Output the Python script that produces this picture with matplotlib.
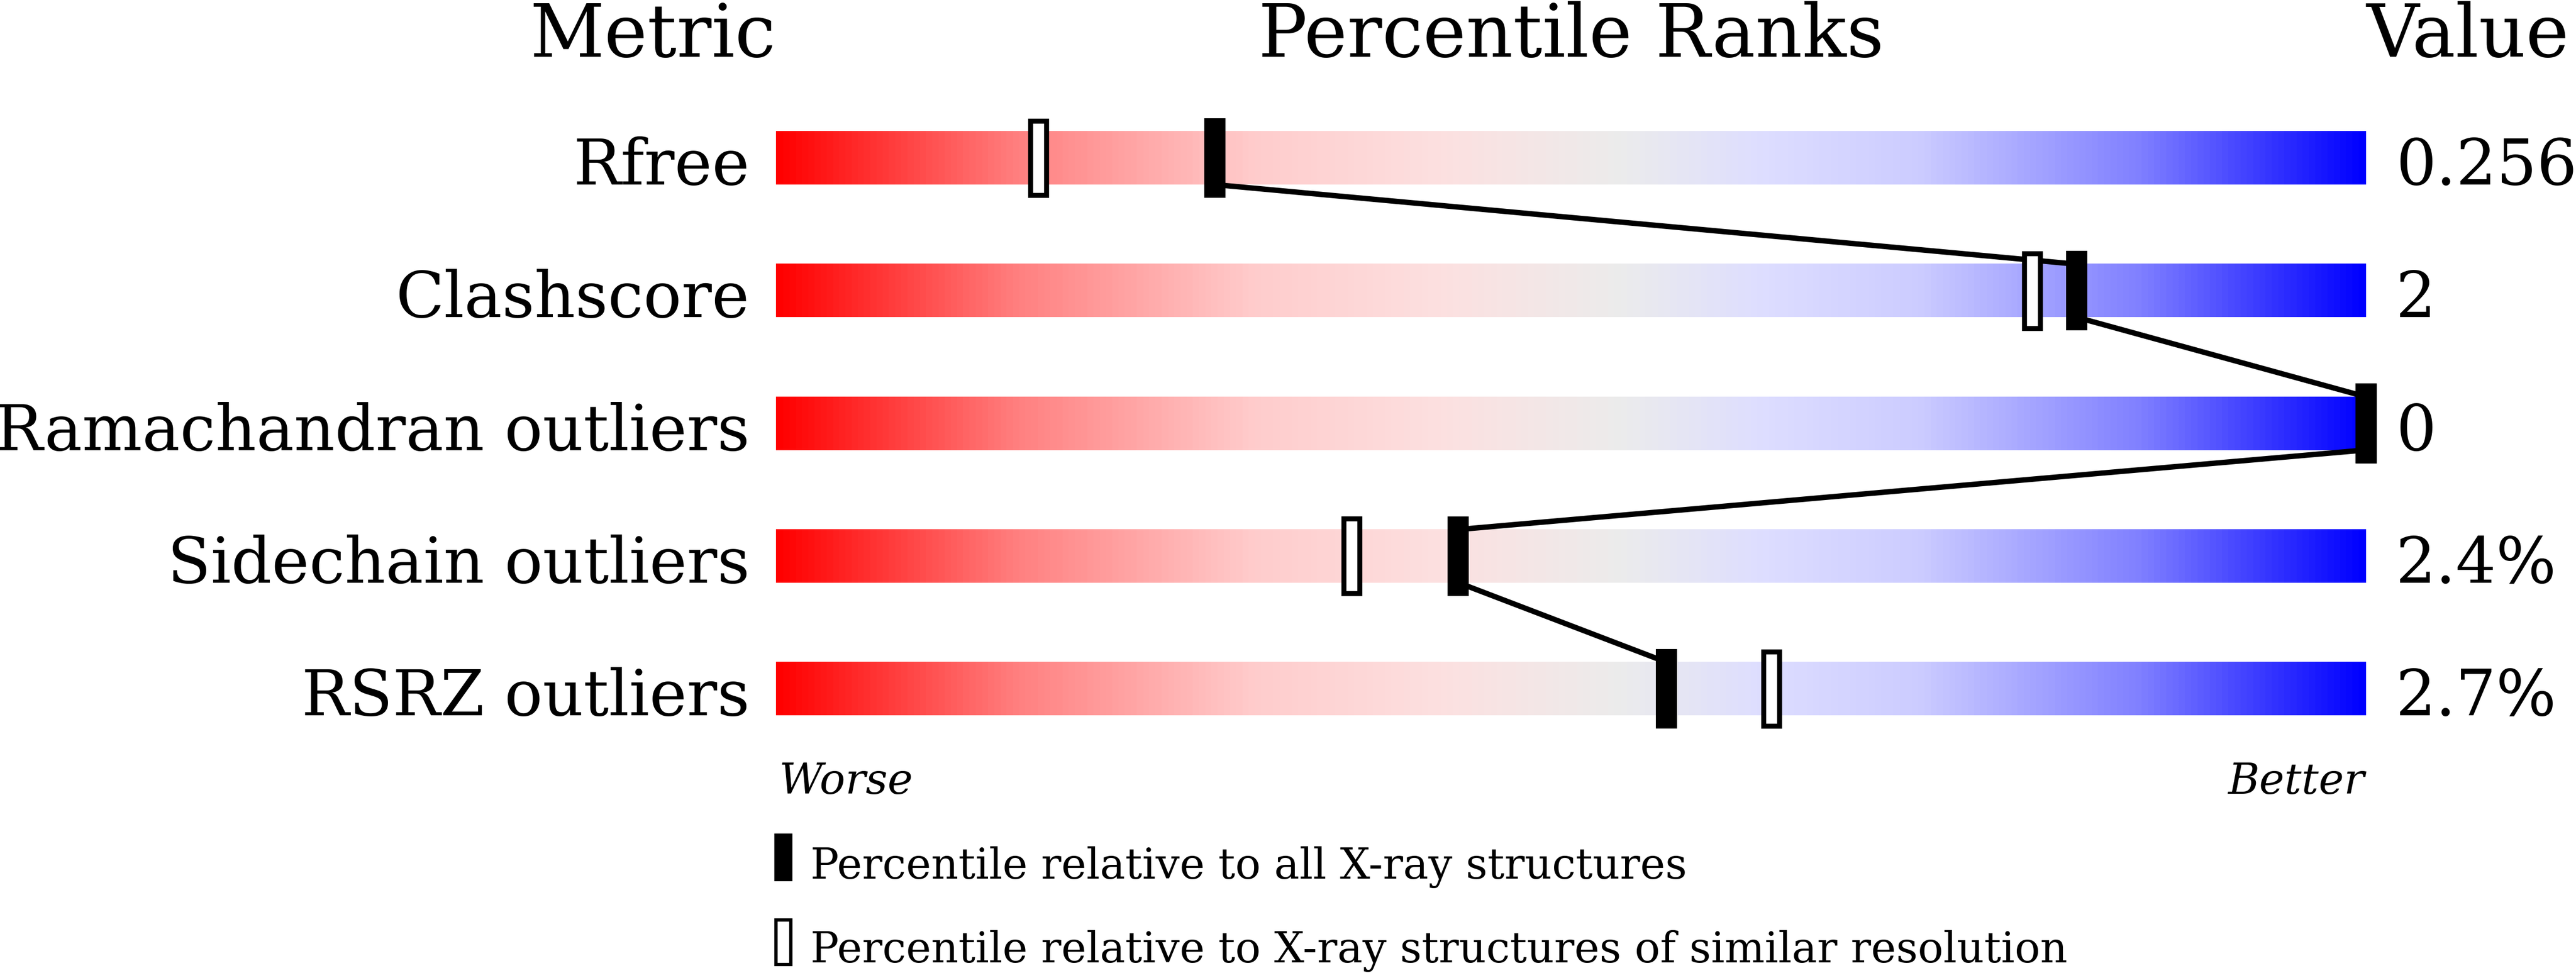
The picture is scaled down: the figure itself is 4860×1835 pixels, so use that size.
import numpy as np
import matplotlib
matplotlib.use("Agg")
import matplotlib.pyplot as plt
from matplotlib.colors import LinearSegmentedColormap
from matplotlib.patches import Rectangle

# data
metrics = ["Rfree", "Clashscore", "Ramachandran outliers", "Sidechain outliers", "RSRZ outliers"]
values = ["0.256", "2", "0", "2.4%", "2.7%"]
pct_all = [27.6, 81.8, 100.0, 42.9, 56.0]      # percentile vs all X-ray structures
pct_res = [16.5, 79.0, 100.0, 36.2, 62.6]      # percentile vs similar resolution
legend_labels = ["Percentile relative to all X-ray structures",
                 "Percentile relative to X-ray structures of similar resolution"]

W, H = 4860, 1835
plt.rcParams["font.family"] = ["DejaVu Serif"]

fig = plt.figure(figsize=(W / 100, H / 100), dpi=100)

# overlay in pixel units for headers / legend
bg = fig.add_axes([0, 0, 1, 1])
bg.set_xlim(0, W)
bg.set_ylim(H, 0)
bg.axis("off")

# slider area: x = percentile, y = row index
x0, x1 = 1464, 4464
y0, y1 = 173, 1424
ax = fig.add_axes([x0 / W, 1 - y1 / H, (x1 - x0) / W, (y1 - y0) / H])

cmap = LinearSegmentedColormap.from_list("slider", [
    (0.00, (1.00, 0.00, 0.00)),
    (0.15, (1.00, 0.50, 0.50)),
    (0.30, (1.00, 0.80, 0.80)),
    (0.42, (0.99, 0.88, 0.88)),
    (0.53, (0.925, 0.925, 0.925)),
    (0.62, (0.87, 0.87, 1.00)),
    (0.72, (0.80, 0.80, 1.00)),
    (0.86, (0.50, 0.50, 1.00)),
    (1.00, (0.00, 0.00, 1.00)),
])
grad = np.linspace(0, 1, 600).reshape(1, -1)

bar_h = 0.4
mk_h = 0.6
mk_w = 40 / 30.0          # 40 px in percentile units
lw_open = 6.8

for i in range(len(metrics)):
    ax.imshow(grad, extent=[0, 100, i + bar_h / 2, i - bar_h / 2],
              aspect="auto", cmap=cmap, interpolation="bilinear", zorder=1)

# connecting line between the "all structures" markers
for i in range(len(metrics) - 1):
    ax.plot([pct_all[i], pct_all[i + 1]], [i + bar_h / 2, i + 1 - bar_h / 2],
            color="black", lw=7.3, solid_capstyle="butt", zorder=2, clip_on=False)

edge = lw_open / 72 * 100 / 30.0     # outline width in x units
edge_y = lw_open / 72 * 100 / 250.2  # outline width in y units
for i in range(len(metrics)):
    p = pct_res[i]
    ax.add_patch(Rectangle((p - (mk_w - edge) / 2, i - (mk_h - edge_y) / 2),
                           mk_w - edge, mk_h - edge_y, facecolor="white",
                           edgecolor="black", lw=lw_open, zorder=3, clip_on=False))
    p = pct_all[i]
    ax.add_patch(Rectangle((p - mk_w / 2, i - mk_h / 2), mk_w, mk_h,
                           facecolor="black", edgecolor="none", zorder=4, clip_on=False))

ax.set_xlim(0, 100)
ax.set_ylim(len(metrics) - 0.5, -0.5)
ax.axis("off")

# row labels and values
for i, (m, v) in enumerate(zip(metrics, values)):
    ax.text(-50 / 30.0, i + bar_h / 2, m, ha="right", va="baseline",
            fontsize=86, clip_on=False)
    ax.text(100 + 56 / 30.0, i + bar_h / 2, v, ha="left", va="baseline",
            fontsize=86, clip_on=False)

# headers
bg.text(x0, 107, "Metric", ha="right", va="baseline", fontsize=99)
bg.text((x0 + x1) / 2, 107, "Percentile Ranks", ha="center", va="baseline", fontsize=99)
bg.text(x1, 107, "Value", ha="left", va="baseline", fontsize=99)

bg.text(x0 + 6, 1497, "Worse", ha="left", va="baseline", fontsize=58, style="italic")
bg.text(x1 - 3, 1497, "Better", ha="right", va="baseline", fontsize=58, style="italic")

# legend
bg.add_patch(Rectangle((1461, 1572), 34, 90, facecolor="black", edgecolor="none"))
bg.add_patch(Rectangle((1464, 1735), 28, 84, facecolor="white", edgecolor="black", lw=4.5))
bg.text(1529, 1657, legend_labels[0], ha="left", va="baseline", fontsize=57.5)
bg.text(1529, 1815, legend_labels[1], ha="left", va="baseline", fontsize=57.5)

fig.savefig("out.png", dpi=100, facecolor="white")
